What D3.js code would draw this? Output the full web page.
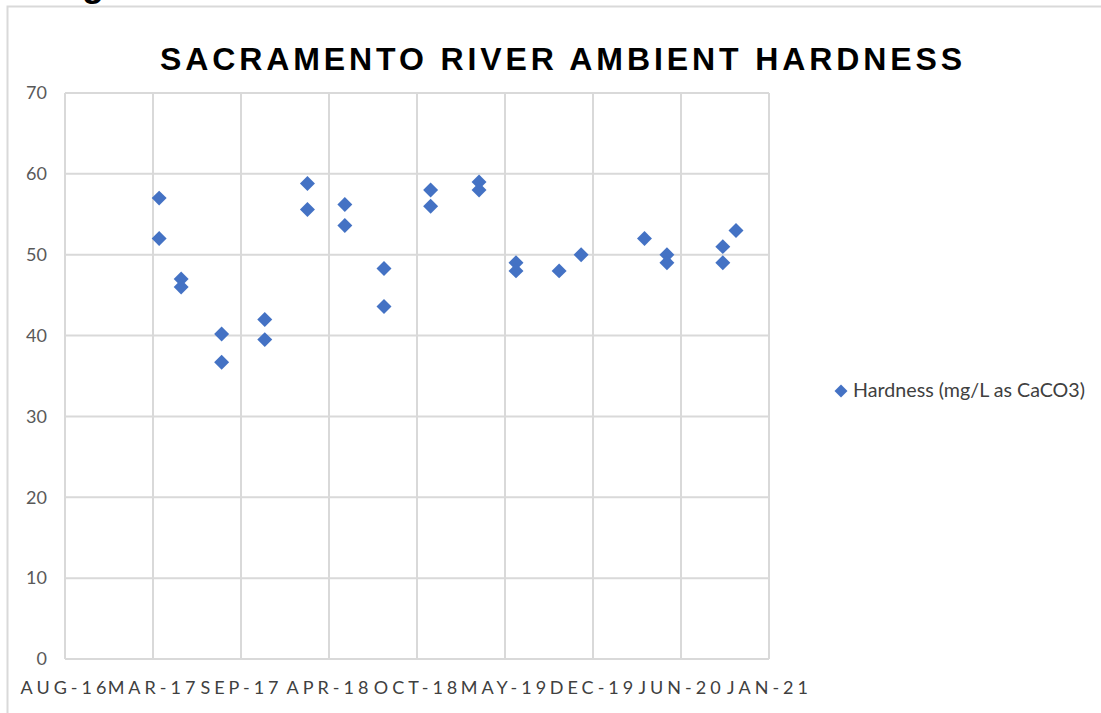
<!DOCTYPE html>
<html>
<head>
<meta charset="utf-8">
<script src="https://cdn.jsdelivr.net/npm/d3@7"></script>
<style>
  body { margin: 0; background: #fff; }
  svg { display: block; }
</style>
</head>
<body>
<div id="chart"></div>
<script>
// sample dates and hardness readings (two readings on most dates)
var sampleDates = [
  "2017-03-20", "2017-03-20", "2017-05-09", "2017-05-09",
  "2017-08-09", "2017-08-09", "2017-11-15", "2017-11-15",
  "2018-02-20", "2018-02-20", "2018-05-16", "2018-05-16",
  "2018-08-13", "2018-08-13", "2018-11-27", "2018-11-27",
  "2019-03-17", "2019-03-17", "2019-06-09", "2019-06-09",
  "2019-09-15", "2019-11-04", "2020-03-27",
  "2020-05-17", "2020-05-17", "2020-09-21", "2020-09-21", "2020-10-21"
];
var hardness = [
  57, 52, 47, 46,
  40.2, 36.7, 42, 39.5,
  58.8, 55.6, 56.2, 53.6,
  48.3, 43.6, 58, 56,
  59, 58, 49, 48,
  48, 50, 52,
  50, 49, 51, 49, 53
];

// axis ticks (Excel date axis, one tick every 200 days)
var xTickDates = ["2016-08-18", "2017-03-06", "2017-09-22", "2018-04-10", "2018-10-27",
  "2019-05-15", "2019-12-01", "2020-06-18", "2021-01-04"];
var xTickLabels = ["AUG-16", "MAR-17", "SEP-17", "APR-18", "OCT-18", "MAY-19", "DEC-19", "JUN-20", "JAN-21"];
var yTicks = [0, 10, 20, 30, 40, 50, 60, 70];

var chartTitle = "SACRAMENTO RIVER AMBIENT HARDNESS";
var seriesName = "Hardness (mg/L as CaCO3)";

var W = 1101, H = 713;
var plot = { left: 65, right: 769, top: 93, bottom: 659 };
var gridColor = "#d9d9d9";
var blue = "#4472c4";

var parse = d3.utcParse("%Y-%m-%d");

var data = sampleDates.map(function(d, i) {
  return { date: parse(d), value: hardness[i] };
});

var x = d3.scaleUtc()
  .domain([parse(xTickDates[0]), parse(xTickDates[xTickDates.length - 1])])
  .range([plot.left, plot.right]);

var y = d3.scaleLinear().domain([0, 70]).range([plot.bottom, plot.top]);

var svg = d3.select("#chart")
  .append("svg")
  .attr("width", W)
  .attr("height", H);

// heading above the chart, mostly outside the picture (only the "g" tail shows)
svg.append("text")
  .attr("x", 50)
  .attr("y", -4)
  .attr("font-family", "Liberation Sans, Arial, sans-serif")
  .attr("font-weight", "bold")
  .attr("font-size", 36)
  .attr("fill", "#000")
  .text("Figure");

// chart border
svg.append("rect")
  .attr("x", 7.5)
  .attr("y", 6.5)
  .attr("width", W + 20)
  .attr("height", H + 20)
  .attr("fill", "none")
  .attr("stroke", gridColor)
  .attr("stroke-width", 2);

// title
svg.append("text")
  .attr("x", 160)
  .attr("y", 70)
  .attr("textLength", 802)
  .attr("lengthAdjust", "spacing")
  .attr("font-family", "Liberation Sans, Arial, sans-serif")
  .attr("font-weight", "bold")
  .attr("font-size", 32)
  .attr("fill", "#000")
  .text(chartTitle);

// horizontal grid
svg.append("g")
  .selectAll("line")
  .data(yTicks)
  .enter()
  .append("line")
  .attr("x1", plot.left)
  .attr("x2", plot.right)
  .attr("y1", function(d) { return y(d); })
  .attr("y2", function(d) { return y(d); })
  .attr("stroke", gridColor)
  .attr("stroke-width", 2);

// vertical grid
svg.append("g")
  .selectAll("line")
  .data(xTickDates)
  .enter()
  .append("line")
  .attr("x1", function(d) { return x(parse(d)); })
  .attr("x2", function(d) { return x(parse(d)); })
  .attr("y1", plot.top)
  .attr("y2", plot.bottom)
  .attr("stroke", gridColor)
  .attr("stroke-width", 2);

// y axis labels
var yAxis = d3.axisLeft(y).tickValues(yTicks).tickSize(0).tickPadding(18);
var gy = svg.append("g")
  .attr("transform", "translate(" + plot.left + ",0)")
  .call(yAxis);
gy.select(".domain").remove();
gy.selectAll("text")
  .attr("font-family", "Lato, sans-serif")
  .attr("font-size", 18)
  .attr("fill", "#595959");

// x axis labels
var xAxis = d3.axisBottom(x)
  .tickValues(xTickDates.map(parse))
  .tickSize(0)
  .tickPadding(22)
  .tickFormat(function(d, i) { return xTickLabels[i]; });
var gx = svg.append("g")
  .attr("transform", "translate(0," + plot.bottom + ")")
  .call(xAxis);
gx.select(".domain").remove();
gx.selectAll("text")
  .attr("font-family", "Lato, sans-serif")
  .attr("font-size", 18)
  .attr("letter-spacing", "4px")
  .attr("fill", "#404040");

// points
var diamond = d3.symbol().type(d3.symbolSquare).size(112);
svg.append("g")
  .selectAll("path")
  .data(data)
  .enter()
  .append("path")
  .attr("d", diamond)
  .attr("transform", function(d) {
    return "translate(" + x(d.date) + "," + y(d.value) + ") rotate(45)";
  })
  .attr("fill", blue);

// legend
svg.append("path")
  .attr("d", d3.symbol().type(d3.symbolSquare).size(84))
  .attr("transform", "translate(841,391) rotate(45)")
  .attr("fill", blue);
svg.append("text")
  .attr("x", 853)
  .attr("y", 397)
  .attr("textLength", 232)
  .attr("lengthAdjust", "spacingAndGlyphs")
  .attr("font-family", "Lato, sans-serif")
  .attr("font-size", 19)
  .attr("fill", "#404040")
  .text(seriesName);
</script>
</body>
</html>
